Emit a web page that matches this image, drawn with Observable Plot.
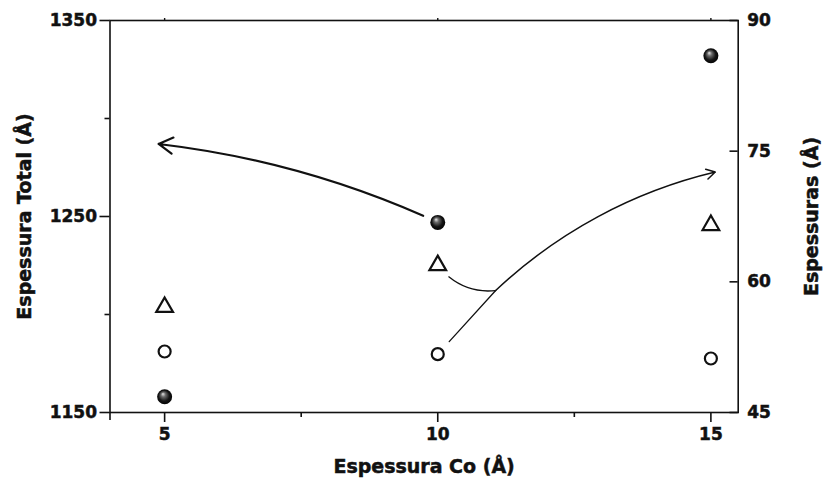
<!DOCTYPE html>
<html>
<head>
<meta charset="utf-8">
<script src="https://cdn.jsdelivr.net/npm/d3@7"></script>
<script src="https://cdn.jsdelivr.net/npm/@observablehq/plot@0.6"></script>
<style>
  html, body { margin: 0; padding: 0; background: #fff; }
  #chart { width: 830px; height: 484px; }
  /* heavier lettering for tick labels and titles */
  #chart svg text { stroke: #111; stroke-width: 0.5px; paint-order: stroke; }
</style>
</head>
<body>
<div id="chart"></div>
<script>
// Co layer thickness (Å)
const coThickness = [5, 10, 15];
// Total thickness (Å), left axis — filled spheres
const totalThickness = [1158, 1247, 1332];
// Individual layer thicknesses (Å), right axis
const circleThickness = [52.0, 51.7, 51.2];
const triangleThickness = [57.1, 61.9, 66.5];

// Axis ticks
const xTicks = [5, 10, 15];
const xMinorTicks = [7.5, 12.5];
const leftTicks = [1150, 1250, 1350];
const leftMinorTicks = [1200, 1300];
const rightTicks = [45, 60, 75, 90];

// Annotation arrows: which axis each group of symbols belongs to
const leftArrowTip = [4.89, 1287];     // x, total thickness
const rightJunction = [11.06, 59.0];   // x, layer thickness
const rightArrowTip = [15.08, 72.6];   // x, layer thickness

// Right axis (45–90) mapped onto the left axis (1150–1350)
const toLeft = v => 1150 + (v - 45) * (1350 - 1150) / (90 - 45);
const fromLeft = v => 45 + (v - 1150) * (90 - 45) / (1350 - 1150);

const spheres = coThickness.map((x, i) => ({x, y: totalThickness[i]}));
const circles = coThickness.map((x, i) => ({x, y: toLeft(circleThickness[i])}));
const triangles = coThickness.map((x, i) => ({x, y: toLeft(triangleThickness[i])}));

const ink = "#111";
const fontFamily = "DejaVu Sans";

// Radial gradient giving the filled markers a shaded-sphere look
const sphereDefs = () => {
  const defs = d3.create("svg:defs");
  const g = defs.append("radialGradient")
    .attr("id", "sphere")
    .attr("cx", "50%").attr("cy", "50%").attr("r", "55%")
    .attr("fx", "38%").attr("fy", "30%");
  g.append("stop").attr("offset", "0%").attr("stop-color", "#e8e8e8");
  g.append("stop").attr("offset", "28%").attr("stop-color", "#6a6a6a");
  g.append("stop").attr("offset", "65%").attr("stop-color", "#151515");
  g.append("stop").attr("offset", "100%").attr("stop-color", "#000");
  return defs.node();
};

const chart = Plot.plot({
  width: 830,
  height: 484,
  marginLeft: 109.5,
  marginRight: 92.3,
  marginTop: 20,
  marginBottom: 72,
  style: {fontFamily, fontWeight: "bold", fontSize: "17px", color: ink, background: "#fff"},
  x: {domain: [4, 15.5]},
  y: {domain: [1150, 1350]},
  marks: [
    sphereDefs,
    Plot.frame({stroke: ink, strokeWidth: 1.6}),

    // bottom axis
    Plot.axisX({ticks: xTicks, tickSize: 10, tickPadding: 5, tickFormat: d => String(d), strokeWidth: 1.6, stroke: ink, label: null, fontSize: 17}),
    Plot.axisX({ticks: xMinorTicks, tickSize: 5, tickFormat: () => "", strokeWidth: 1.6, stroke: ink, label: null}),
    Plot.axisX({ticks: [4], tickSize: 8, tickFormat: () => "", strokeWidth: 1.6, stroke: ink, label: null}),
    // top axis
    Plot.axisX({anchor: "top", ticks: xTicks, tickSize: 3, tickFormat: () => "", strokeWidth: 1.4, stroke: ink, label: null}),

    // left axis
    Plot.axisY({ticks: leftTicks, tickSize: 10, tickPadding: 3, tickFormat: d => String(d), strokeWidth: 1.6, stroke: ink, label: null, fontSize: 17}),
    Plot.axisY({ticks: leftMinorTicks, tickSize: 5, tickFormat: () => "", strokeWidth: 1.6, stroke: ink, label: null}),

    // right axis: inward ticks and labels
    Plot.axisY({anchor: "right", ticks: rightTicks.map(toLeft), tickSize: 0, tickPadding: 9,
      tickFormat: d => String(Math.round(fromLeft(d))), label: null, fontSize: 17}),
    Plot.tickY(rightTicks.map(toLeft), {y: d => d, insetLeft: 620, stroke: ink, strokeWidth: 1.6}),

    // axis titles
    Plot.text(["Espessura Co (Å)"], {frameAnchor: "bottom", dy: 54, lineAnchor: "middle", textAnchor: "middle", fontSize: 19, fontWeight: "bold", fill: ink}),
    Plot.text(["Espessura Total (Å)"], {frameAnchor: "left", dx: -85, rotate: -90, lineAnchor: "middle", textAnchor: "middle", fontSize: 19, fontWeight: "bold", fill: ink}),
    Plot.text(["Espessuras (Å)"], {frameAnchor: "right", dx: 74, rotate: -90, lineAnchor: "middle", textAnchor: "middle", fontSize: 19, fontWeight: "bold", fill: ink}),

    // arrow from the total-thickness point to the left axis
    Plot.arrow([0], {
      x1: () => coThickness[1], y1: () => totalThickness[1],
      x2: () => leftArrowTip[0], y2: () => leftArrowTip[1],
      bend: -9, insetStart: 16, headLength: 11, headAngle: 60,
      stroke: ink, strokeWidth: 2.2
    }),
    // circle and triangle branches joining into the arrow to the right axis
    Plot.arrow([0], {
      x1: () => coThickness[1], y1: () => toLeft(circleThickness[1]),
      x2: () => rightJunction[0], y2: () => toLeft(rightJunction[1]),
      insetStart: 17, headLength: 0, stroke: ink, strokeWidth: 1.3
    }),
    Plot.arrow([0], {
      x1: () => coThickness[1], y1: () => toLeft(triangleThickness[1]),
      x2: () => rightJunction[0], y2: () => toLeft(rightJunction[1]),
      bend: -30, insetStart: 16, headLength: 0, stroke: ink, strokeWidth: 1.3
    }),
    Plot.arrow([0], {
      x1: () => rightJunction[0], y1: () => toLeft(rightJunction[1]),
      x2: () => rightArrowTip[0], y2: () => toLeft(rightArrowTip[1]),
      bend: 15, headLength: 10, headAngle: 60, stroke: ink, strokeWidth: 1.5
    }),

    // data symbols
    Plot.dot(triangles, {x: "x", y: "y", symbol: "triangle", r: 6.2, stroke: ink, strokeWidth: 2.2, fill: "none"}),
    Plot.dot(circles, {x: "x", y: "y", symbol: "circle", r: 6, stroke: ink, strokeWidth: 2.2, fill: "none"}),
    Plot.dot(spheres, {x: "x", y: "y", r: 7.5, fill: "url(#sphere)", stroke: "none"})
  ]
});

document.getElementById("chart").append(chart);
</script>
</body>
</html>
